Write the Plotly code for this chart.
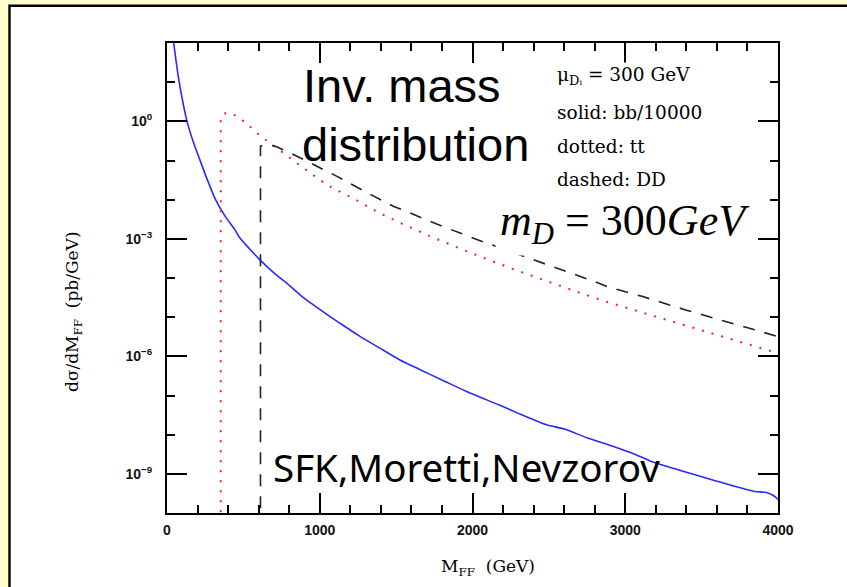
import plotly.graph_objects as go

# ---------------- data ----------------
bb_mass = [30, 44, 80, 131, 170, 214, 260, 318, 380, 443, 476, 540, 607, 700, 800, 891,
           1044, 1150, 1263, 1394, 1525, 1650, 1800, 1962, 2180, 2300, 2486, 2606, 2750,
           2923, 3050, 3163, 3350, 3578, 3700, 3840, 3928, 3970, 4000]
bb_xsec = [316, 100, 10, 1.0, 0.316, 0.107, 0.0355, 0.01, 0.0038, 0.00174, 0.00107,
           5.6e-4, 2.95e-4, 1.35e-4, 6.5e-5, 3.2e-5, 1.2e-5, 6.3e-6, 3.24e-6, 1.62e-6,
           8.1e-7, 4.7e-7, 2.5e-7, 1.26e-7, 5.6e-8, 3.5e-8, 1.78e-8, 1.38e-8, 8.3e-9,
           5.0e-9, 3.3e-9, 2.14e-9, 1.26e-9, 6.9e-10, 5.0e-10, 3.6e-10, 3.3e-10, 2.8e-10,
           2.24e-10]

tt_mass = [352, 352, 365, 389, 450, 520, 607, 700, 826, 935, 1050, 1230, 1380, 1536,
           1750, 2000, 2250, 2486, 2680, 2873, 3142, 3400, 3700, 4000]
tt_xsec = [1e-11, 1.26, 1.5, 1.66, 1.41, 0.89, 0.44, 0.234, 0.1, 0.049, 0.0234, 0.0102,
           4.8e-3, 2.45e-3, 1.05e-3, 4.2e-4, 1.78e-4, 8.3e-5, 4.5e-5, 2.5e-5, 1.2e-5,
           5.9e-6, 2.6e-6, 1.2e-6]

dd_mass = [612, 612, 661, 717, 804, 935, 1110, 1300, 1481, 1536, 1800, 2100, 2450, 2792,
           2897, 3109, 3400, 3700, 4000]
dd_xsec = [1e-11, 0.234, 0.257, 0.224, 0.158, 0.087, 0.040, 0.0158, 6.8e-3, 5.6e-3,
           2.1e-3, 7.6e-4, 2.5e-4, 8.3e-5, 5.75e-5, 3.4e-5, 1.51e-5, 7.1e-6, 3.2e-6]

x_major = [0, 1000, 2000, 3000, 4000]
x_major_text = ["<b>0</b>", "<b>1000</b>", "<b>2000</b>", "<b>3000</b>", "<b>4000</b>"]
x_minor = [200, 400, 600, 800, 1200, 1400, 1600, 1800, 2200, 2400, 2600, 2800,
           3200, 3400, 3600, 3800]
y_major = [1, 1e-3, 1e-6, 1e-9]
y_major_text = ["<b>10<sup>0</sup></b>", "<b>10<sup>\u22123</sup></b>",
                "<b>10<sup>\u22126</sup></b>", "<b>10<sup>\u22129</sup></b>"]
y_minor = [1e1, 1e-1, 1e-2, 1e-4, 1e-5, 1e-7, 1e-8]

# ---------------- layout helpers ----------------
W, H = 847, 587
L, R, T, B = 167, 69, 43, 74
PW, PH = W - L - R, H - T - B


def px(x):
    return (x - L) / PW


def py(y):
    return (H - B - y) / PH


fig = go.Figure()
fig.add_trace(go.Scatter(x=bb_mass, y=bb_xsec, mode="lines",
                         line=dict(color="#2a2aff", width=1.6, shape="spline",
                                   smoothing=0.6),
                         showlegend=False))
fig.add_trace(go.Scatter(x=tt_mass, y=tt_xsec, mode="lines",
                         line=dict(color="#ff2020", width=2, dash="2px,8px"),
                         showlegend=False))
fig.add_trace(go.Scatter(x=dd_mass, y=dd_xsec, mode="lines",
                         line=dict(color="#222222", width=1.6, dash="12px,10px"),
                         showlegend=False))

tickfont = dict(family="Liberation Sans", size=14, color="#111")
axis_common = dict(showgrid=False, zeroline=False, showline=True, linecolor="black",
                   linewidth=2, mirror="allticks", ticks="inside", ticklen=20,
                   tickwidth=1.6, tickcolor="black", tickfont=tickfont)

fig.update_xaxes(range=[0, 4000], tickmode="array", tickvals=x_major,
                 ticktext=x_major_text,
                 minor=dict(tickmode="array", tickvals=x_minor, ticks="inside",
                            ticklen=8, tickwidth=1.6, tickcolor="black"),
                 ticklabelstandoff=3, **axis_common)
fig.update_yaxes(type="log", range=[-10, 2], tickmode="array", tickvals=y_major,
                 ticktext=y_major_text,
                 minor=dict(tickmode="array", tickvals=y_minor, ticks="inside",
                            ticklen=8, tickwidth=1.6, tickcolor="black"),
                 ticklabelstandoff=10, **axis_common)

serif = "DejaVu Serif"
ann = []
ann.append(dict(text="Inv. mass", x=px(301), y=py(86), xanchor="left", yanchor="middle",
                font=dict(family="Liberation Sans", size=47, color="black")))
ann.append(dict(text="distribution", x=px(300), y=py(144), xanchor="left",
                yanchor="middle",
                font=dict(family="Liberation Sans", size=47, color="black")))
for txt, yc in [("\u03bc<sub>D\u1d62</sub> = 300 GeV", 76),
                ("solid: bb/10000", 112.5),
                ("dotted: tt", 146),
                ("dashed: DD", 179)]:
    ann.append(dict(text=txt, x=px(555), y=py(yc), xanchor="left", yanchor="middle",
                    bgcolor="white",
                    font=dict(family=serif, size=18.5, color="black")))
ann.append(dict(text="<i>m</i><sub><i>D</i></sub> = 300<i>GeV</i>", x=px(495),
                y=py(224), xanchor="left", yanchor="middle", bgcolor="white",
                borderpad=4,
                font=dict(family="Liberation Serif", size=44, color="black")))
ann.append(dict(text="SFK,Moretti,Nevzorov", x=px(271), y=py(467), xanchor="left",
                yanchor="middle",
                font=dict(family="Noto Sans", size=38.5, color="black")))
ann.append(dict(text="d\u03c3/dM<sub>FF</sub>  (pb/GeV)", x=px(73), y=py(312),
                xanchor="center", yanchor="middle", textangle=-90,
                font=dict(family=serif, size=17, color="black")))
ann.append(dict(text="M<sub>FF</sub>  (GeV)", x=px(488), y=py(567), xanchor="center",
                yanchor="middle",
                font=dict(family=serif, size=17, color="black")))
for a in ann:
    a.update(xref="paper", yref="paper", showarrow=False)

fig.update_layout(
    width=W, height=H,
    margin=dict(l=L, r=R, t=T, b=B, pad=0),
    paper_bgcolor="#ffffcc", plot_bgcolor="white",
    annotations=ann,
    shapes=[dict(type="rect", xref="paper", yref="paper", layer="below",
                 x0=px(9.5), x1=px(W + 10), y0=py(H + 10), y1=py(5.7),
                 fillcolor="white", line=dict(color="black", width=2.4))],
)

fig.write_html("out.html")
